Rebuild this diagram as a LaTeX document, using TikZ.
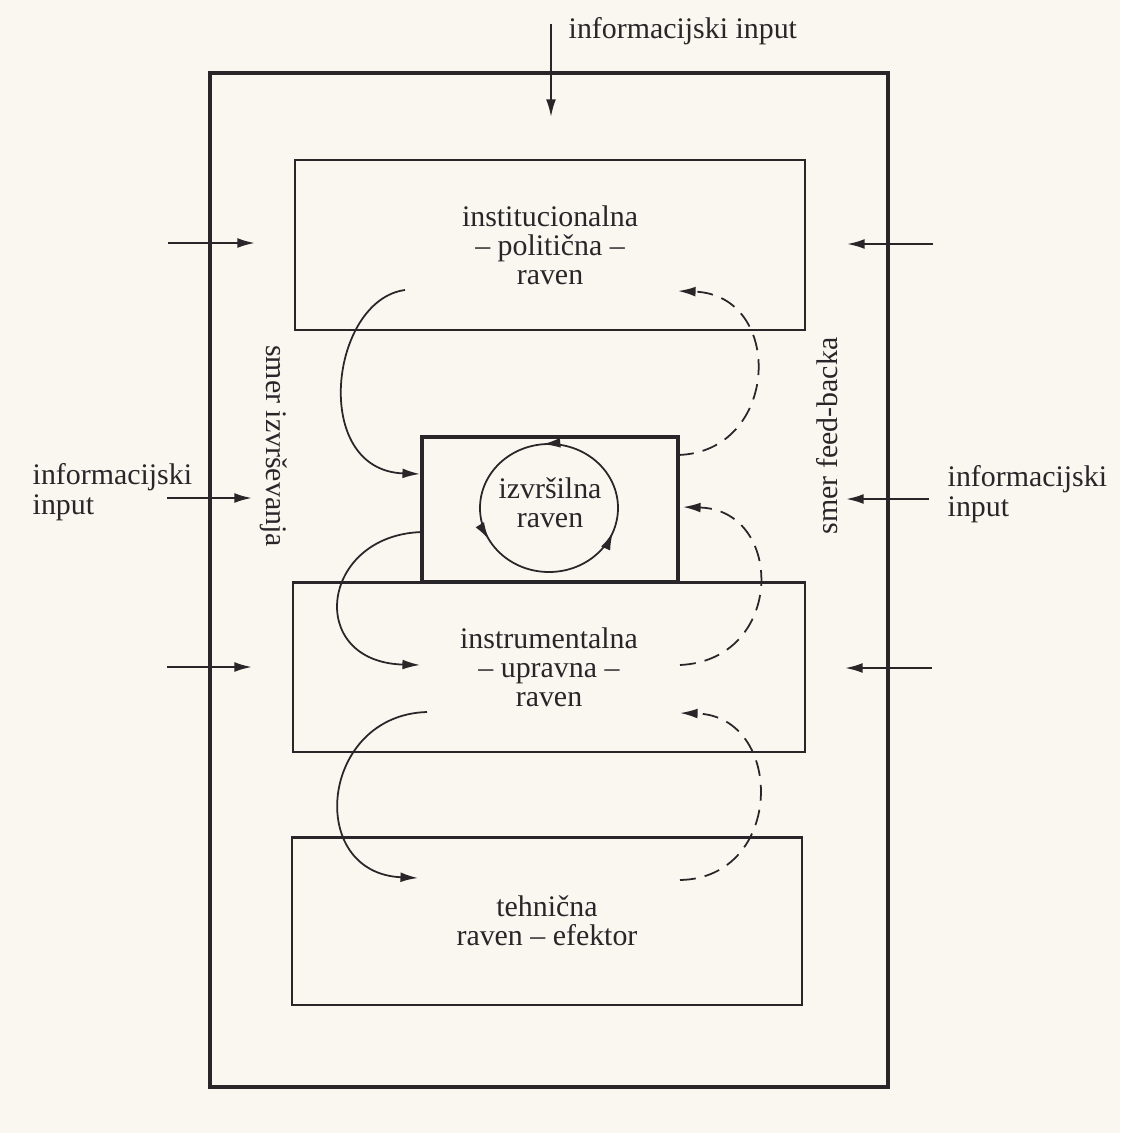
\documentclass[tikz,border=0pt]{standalone}
\usepackage{fontspec}
\setmainfont{Liberation Serif}
\usetikzlibrary{arrows.meta}
\usetikzlibrary{decorations.markings}
\definecolor{paper}{RGB}{249,247,240}
\definecolor{ink}{RGB}{40,38,40}
\tikzset{
  levelbox/.style={draw=ink, line width=0.6pt, inner sep=0pt, align=center, text=ink},
  headtip/.style={-{Latex[length=5pt,width=2.8pt]}},
  inarrow/.style={headtip, draw=ink, line width=0.6pt},
  downflow/.style={headtip, draw=ink, line width=0.5pt},
  backflow/.style={headtip, draw=ink, line width=0.5pt, dash pattern=on 4.5pt off 2.6pt},
  sidelbl/.style={text=ink, align=left, inner sep=0pt, font=\fontsize{8.5}{7.2}\selectfont},
}

\begin{document}
\begin{tikzpicture}[x=0.01cm, y=-0.01cm, font=\fontsize{8.5}{8.2}\selectfont]
  \fill[paper] (0,0) rectangle (1120,1133);
  \useasboundingbox (0,0) rectangle (1120,1133);

  % outer frame
  \node[draw=ink, line width=1.1pt, minimum width=6.78cm, minimum height=10.14cm] (frame) at (549,580) {};

  % levels
  \node[levelbox, minimum width=5.1cm, minimum height=1.7cm] (inst) at (550,245) {institucionalna\\– politična –\\raven};
  \node[levelbox, line width=1.2pt, minimum width=2.56cm, minimum height=1.45cm, text depth=0.14cm] (izvr) at (550,509.5) {izvršilna\\raven};
  \node[levelbox, minimum width=5.12cm, minimum height=1.69cm] (instr) at (549,667) {instrumentalna\\– upravna –\\raven};
  \node[levelbox, minimum width=5.1cm, minimum height=1.67cm] (teh) at (547,921) {tehnična\\raven – efektor};

  % loop inside the executive level
  \draw[ink, line width=0.5pt, postaction={decorate}, decoration={markings,
      mark=at position 0.015 with {\arrow{Latex[length=5pt,width=2.8pt]}},
      mark=at position 0.33 with {\arrow{Latex[length=5pt,width=2.8pt]}},
      mark=at position 0.69 with {\arrow{Latex[length=5pt,width=2.8pt]}}}]
    (549,444) arc[start angle=-90, end angle=-450, x radius=69, y radius=64];

  % direction of execution
  \coordinate (d1s) at (405,290);  \coordinate (d1e) at (420,474);
  \coordinate (d2s) at (422,532);  \coordinate (d2e) at (420,665);
  \coordinate (d3s) at (427,712);  \coordinate (d3e) at (418,878);
  \draw[downflow] (d1s) .. controls (330,300) and (310,470) .. (d1e);
  \draw[downflow] (d2s) .. controls (320,535) and (305,662) .. (d2e);
  \draw[downflow] (d3s) .. controls (320,715) and (305,873) .. (d3e);

  % feed-back
  \coordinate (f1s) at (678,455);  \coordinate (f1e) at (678,291);
  \coordinate (f2s) at (680,665);  \coordinate (f2e) at (683,507);
  \coordinate (f3s) at (680,880);  \coordinate (f3e) at (680,713);
  \draw[backflow] (f1s) .. controls (780,452) and (785,295) .. (f1e);
  \draw[backflow] (f2s) .. controls (785,660) and (785,510) .. (f2e);
  \draw[backflow] (f3s) .. controls (785,878) and (785,716) .. (f3e);

  \node[rotate=-90, text=ink] (izvsmer) at (274,446) {smer izvrševanja};
  \node[rotate=90, text=ink] (fbsmer) at (827,436) {smer feed-backa};

  % information inputs
  \coordinate (tin) at (551,24);   \coordinate (tine) at (551,117);
  \draw[inarrow] (tin) -- (tine);
  \node[text=ink, inner sep=0pt, anchor=base west] (toplbl) at (568,38) {informacijski input};

  \coordinate (la) at (168,243);  \coordinate (lae) at (255,243);
  \coordinate (lb) at (167,498);  \coordinate (lbe) at (252,498);
  \coordinate (lc) at (167,667);  \coordinate (lce) at (252,667);
  \draw[inarrow] (la) -- (lae);
  \draw[inarrow] (lb) -- (lbe);
  \draw[inarrow] (lc) -- (lce);

  \coordinate (ra) at (933,244);  \coordinate (rae) at (847,244);
  \coordinate (rb) at (929,499);  \coordinate (rbe) at (846,499);
  \coordinate (rc) at (932,668);  \coordinate (rce) at (845,668);
  \draw[inarrow] (ra) -- (rae);
  \draw[inarrow] (rb) -- (rbe);
  \draw[inarrow] (rc) -- (rce);

  \node[sidelbl, anchor=west] (leftlbl) at (32,492) {informacijski\\input};
  \node[sidelbl, anchor=west] (rightlbl) at (947,494) {informacijski\\input};
\end{tikzpicture}
\end{document}
